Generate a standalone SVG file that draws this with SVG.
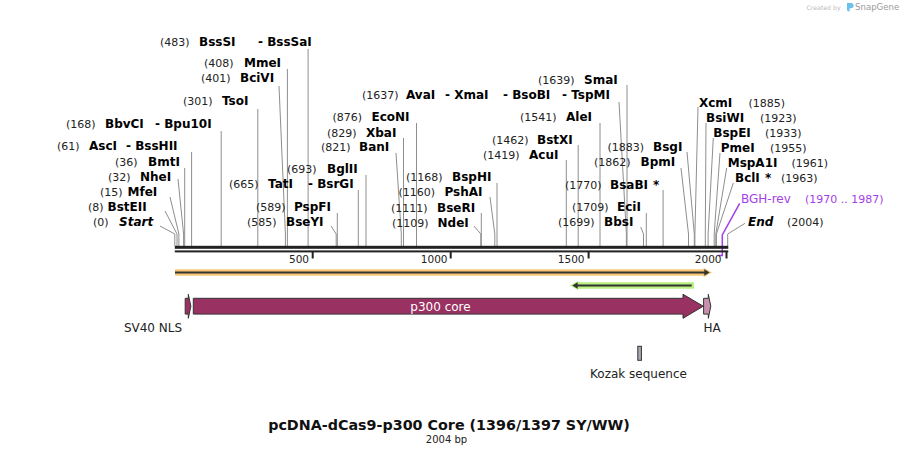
<svg xmlns="http://www.w3.org/2000/svg" width="904" height="456" viewBox="0 0 904 456">
<style>
text{font-family:"DejaVu Sans","Liberation Sans",sans-serif}
.n{font-size:11px;fill:#222}
.b{font-size:12px;font-weight:bold;fill:#000}
.bi{font-size:12px;font-weight:bold;font-style:italic;fill:#000}
.ld{stroke:#8e8e8e;stroke-width:1;fill:none}
.tk{font-size:10.5px;fill:#222;text-anchor:end}
.fl{font-size:12px;fill:#222}
.pu{fill:#a43ee8}
</style>
<rect width="904" height="456" fill="#fff"/>

<g id="watermark">
<text x="806.5" y="10" style="font-size:6.2px;fill:#bdbdbd">Created by</text>
<path d="M847,3 h4 a2.6,2.6 0 0 1 0,5.2 h-1.4 v3.6 l-2.6,-1.4 z" fill="#6cc0ee"/>
<text x="855" y="10" style="font-size:8.6px;fill:#9c9c9c">SnapGene</text>
</g>

<g id="connectors">
<path class="ld" d="M308.1,49V246"/>
<path class="ld" d="M287.4,69V246"/>
<path class="ld" d="M279,86L285.4,234V246"/>
<path class="ld" d="M257.8,109V246"/>
<path class="ld" d="M221.2,131V246"/>
<path class="ld" d="M191.6,152V246"/>
<path class="ld" d="M184.7,168V246"/>
<path class="ld" d="M178,179L183.6,234V246"/>
<path class="ld" d="M170,197L178.9,234V246"/>
<path class="ld" d="M165,211L177,234V246"/>
<path class="ld" d="M160,226L174.8,234V246"/>
<path class="ld" d="M366,175V246"/>
<path class="ld" d="M358.3,190V246"/>
<path class="ld" d="M337.3,213V246"/>
<path class="ld" d="M331,226L336.2,234V246"/>
<path class="ld" d="M416.5,123V246"/>
<path class="ld" d="M403.5,138V246"/>
<path class="ld" d="M396,153L401.3,234V246"/>
<path class="ld" d="M497,183V246"/>
<path class="ld" d="M490,197L494.8,234V246"/>
<path class="ld" d="M481.3,213V246"/>
<path class="ld" d="M474,226L480.8,234V246"/>
<path class="ld" d="M619,102L626.4,234V246"/>
<path class="ld" d="M627,85V246"/>
<path class="ld" d="M600,123V246"/>
<path class="ld" d="M578.2,145V246"/>
<path class="ld" d="M566.3,160V246"/>
<path class="ld" d="M687,152L694.3,234V246"/>
<path class="ld" d="M681,168L688.5,234V246"/>
<path class="ld" d="M663.1,190V246"/>
<path class="ld" d="M646.3,213V246"/>
<path class="ld" d="M640.7,227L643.5,234V246"/>
<path class="ld" d="M698,107L694.9,234V246"/>
<path class="ld" d="M706,123L705.3,234V246"/>
<path class="ld" d="M713.3,138L708.1,234V246"/>
<path class="ld" d="M720,153L714.2,234V246"/>
<path class="ld" d="M726.7,168L715.8,234V246"/>
<path class="ld" d="M733.3,183L716.4,234V246"/>
<path class="ld" d="M745,223.3L727.7,234V246"/>
<path d="M739.7,203.3L722.3,235V255.5H718.3" fill="none" stroke="#a43ee8" stroke-width="1.5"/>
</g>

<g id="axis">
<rect x="174.8" y="245.8" width="553.5" height="3" fill="#222"/>
<rect x="174.8" y="250.4" width="553.5" height="2" fill="#222"/>
<rect x="311.7" y="252" width="2" height="6.5" fill="#222"/>
<rect x="449.7" y="252" width="2" height="6.5" fill="#222"/>
<rect x="587.6" y="252" width="2" height="6.5" fill="#222"/>
<rect x="725.5" y="252" width="2" height="6.5" fill="#222"/>
<text class="tk" x="309" y="262.5">500</text>
<text class="tk" x="447.5" y="262.5">1000</text>
<text class="tk" x="584.5" y="262.5">1500</text>
<text class="tk" x="721.5" y="262.5">2000</text>
</g>

<g id="s483"><text x="160" y="46"><tspan class="n">(483)</tspan><tspan class="b" x="199">BssSI</tspan><tspan class="b" x="258">- BssSaI</tspan></text></g>
<g id="s408"><text x="204" y="67"><tspan class="n">(408)</tspan><tspan class="b" x="244">MmeI</tspan></text></g>
<g id="s401"><text x="201" y="82"><tspan class="n">(401)</tspan><tspan class="b" x="240">BciVI</tspan></text></g>
<g id="s301"><text x="183" y="105"><tspan class="n">(301)</tspan><tspan class="b" x="222">TsoI</tspan></text></g>
<g id="s168"><text x="66" y="128"><tspan class="n">(168)</tspan><tspan class="b" x="105">BbvCI</tspan><tspan class="b" x="155">- Bpu10I</tspan></text></g>
<g id="s61"><text x="57" y="150"><tspan class="n">(61)</tspan><tspan class="b" x="89">AscI</tspan><tspan class="b" x="126">- BssHII</tspan></text></g>
<g id="s36"><text x="115" y="165.5"><tspan class="n">(36)</tspan><tspan class="b" x="148">BmtI</tspan></text></g>
<g id="s32"><text x="108" y="180.5"><tspan class="n">(32)</tspan><tspan class="b" x="140">NheI</tspan></text></g>
<g id="s15"><text x="100" y="196"><tspan class="n">(15)</tspan><tspan class="b" x="127.5">MfeI</tspan></text></g>
<g id="s8"><text x="88" y="211"><tspan class="n">(8)</tspan><tspan class="b" x="107.5">BstEII</tspan></text></g>
<g id="s0"><text x="93" y="225.5"><tspan class="n">(0)</tspan><tspan class="bi" x="119">Start</tspan></text></g>

<g id="s693"><text x="287" y="173"><tspan class="n">(693)</tspan><tspan class="b" x="327">BglII</tspan></text></g>
<g id="s665"><text x="229" y="188"><tspan class="n">(665)</tspan><tspan class="b" x="268">TatI</tspan><tspan class="b" x="308">- BsrGI</tspan></text></g>
<g id="s589"><text x="256" y="211"><tspan class="n">(589)</tspan><tspan class="b" x="294">PspFI</tspan></text></g>
<g id="s585"><text x="247" y="226"><tspan class="n">(585)</tspan><tspan class="b" x="286">BseYI</tspan></text></g>
<g id="s876"><text x="332.5" y="121"><tspan class="n">(876)</tspan><tspan class="b" x="371.5">EcoNI</tspan></text></g>
<g id="s829"><text x="327" y="136.5"><tspan class="n">(829)</tspan><tspan class="b" x="366">XbaI</tspan></text></g>
<g id="s821"><text x="321" y="151"><tspan class="n">(821)</tspan><tspan class="b" x="359">BanI</tspan></text></g>
<g id="s1168"><text x="406" y="181"><tspan class="n">(1168)</tspan><tspan class="b" x="452">BspHI</tspan></text></g>
<g id="s1160"><text x="398.5" y="196"><tspan class="n">(1160)</tspan><tspan class="b" x="444.5">PshAI</tspan></text></g>
<g id="s1111"><text x="391" y="211.5"><tspan class="n">(1111)</tspan><tspan class="b" x="437">BseRI</tspan></text></g>
<g id="s1109"><text x="392" y="226.5"><tspan class="n">(1109)</tspan><tspan class="b" x="437.5">NdeI</tspan></text></g>

<g id="s1637"><text x="362" y="98.5"><tspan class="n">(1637)</tspan><tspan class="b" x="406">AvaI</tspan><tspan class="b" x="445">- XmaI</tspan><tspan class="b" x="503">- BsoBI</tspan><tspan class="b" x="562">- TspMI</tspan></text></g>
<g id="s1639"><text x="538" y="83.5"><tspan class="n">(1639)</tspan><tspan class="b" x="584">SmaI</tspan></text></g>
<g id="s1541"><text x="520" y="121"><tspan class="n">(1541)</tspan><tspan class="b" x="566">AleI</tspan></text></g>
<g id="s1462"><text x="492" y="143.5"><tspan class="n">(1462)</tspan><tspan class="b" x="537">BstXI</tspan></text></g>
<g id="s1419"><text x="483" y="158.5"><tspan class="n">(1419)</tspan><tspan class="b" x="529">AcuI</tspan></text></g>
<g id="s1883"><text x="607.5" y="151"><tspan class="n">(1883)</tspan><tspan class="b" x="653">BsgI</tspan></text></g>
<g id="s1862"><text x="594" y="166"><tspan class="n">(1862)</tspan><tspan class="b" x="640.5">BpmI</tspan></text></g>
<g id="s1770"><text x="565" y="188.5"><tspan class="n">(1770)</tspan><tspan class="b" x="610">BsaBI</tspan><tspan class="b" x="653">*</tspan></text></g>
<g id="s1709"><text x="572" y="211"><tspan class="n">(1709)</tspan><tspan class="b" x="617">EciI</tspan></text></g>
<g id="s1699"><text x="558" y="226"><tspan class="n">(1699)</tspan><tspan class="b" x="604">BbsI</tspan></text></g>

<g id="s1885"><text x="699" y="106.5"><tspan class="b">XcmI</tspan><tspan class="n" x="748.5">(1885)</tspan></text></g>
<g id="s1923"><text x="706" y="121.5"><tspan class="b">BsiWI</tspan><tspan class="n" x="760">(1923)</tspan></text></g>
<g id="s1933"><text x="713.3" y="136.5"><tspan class="b">BspEI</tspan><tspan class="n" x="765">(1933)</tspan></text></g>
<g id="s1955"><text x="720.7" y="151.5"><tspan class="b">PmeI</tspan><tspan class="n" x="770">(1955)</tspan></text></g>
<g id="s1961"><text x="727.7" y="166.5"><tspan class="b">MspA1I</tspan><tspan class="n" x="791.5">(1961)</tspan></text></g>
<g id="s1963"><text x="735" y="181.5"><tspan class="b">BclI</tspan><tspan class="b" x="765">*</tspan><tspan class="n" x="781">(1963)</tspan></text></g>
<g id="bgh-rev"><text x="741" y="203.3" class="pu"><tspan style="font-size:12px">BGH-rev</tspan><tspan style="font-size:11px" x="805">(1970 .. 1987)</tspan></text></g>
<g id="s2004"><text x="748" y="226"><tspan class="bi">End</tspan><tspan class="n" x="787">(2004)</tspan></text></g>

<g id="orange-feature">
<path d="M175,272.5H706" stroke="#f9c774" stroke-width="6.5" fill="none"/>
<polygon points="703.5,267.8 712,272.5 703.5,277.2" fill="#f9c774"/>
<path d="M175,272.5H706" stroke="#333" stroke-width="1.8" fill="none"/>
<polygon points="704.3,269.2 709.6,272.5 704.3,275.8" fill="#333"/>
</g>

<g id="green-feature">
<path d="M576,285.5H694" stroke="#b7f07e" stroke-width="6.5" fill="none"/>
<polygon points="578.5,280.8 570,285.5 578.5,290.2" fill="#b7f07e"/>
<path d="M575,285.5H691.7" stroke="#333" stroke-width="1.8" fill="none"/>
<polygon points="577.6,282.2 572.3,285.5 577.6,288.8" fill="#333"/>
</g>

<g id="p300-core">
<polygon points="193.3,298.3 683,298.3 683,294.3 703.3,306.2 683,318.3 683,314.1 193.3,314.1" fill="#993162" stroke="#333" stroke-width="1"/>
<text x="440.5" y="310.5" text-anchor="middle" style="font-size:12px;fill:#fff">p300 core</text>
</g>

<g id="sv40-nls">
<polygon points="185.2,298.3 188.3,298.3 188.3,294.3 190.9,306.2 188.3,318.3 188.3,314.1 185.2,314.1" fill="#993162" stroke="#333" stroke-width="1"/>
<text x="153" y="331.5" text-anchor="middle" class="fl">SV40 NLS</text>
</g>

<g id="ha">
<polygon points="703.6,298.3 708.3,298.3 708.3,294.3 710.8,306.2 708.3,318.3 708.3,314.1 703.6,314.1" fill="#c98fae" stroke="#333" stroke-width="1"/>
<text x="712" y="331.5" text-anchor="middle" class="fl">HA</text>
</g>

<g id="kozak">
<rect x="637.8" y="346.3" width="3.6" height="14" fill="#a9a9b4" stroke="#333" stroke-width="1"/>
<text x="638.5" y="378" text-anchor="middle" class="fl">Kozak sequence</text>
</g>

<g id="title">
<text x="449" y="430" text-anchor="middle" style="font-size:14.3px;font-weight:bold;fill:#111">pcDNA-dCas9-p300 Core (1396/1397 SY/WW)</text>
<text x="446.5" y="443" text-anchor="middle" style="font-size:10px;fill:#222">2004 bp</text>
</g>
</svg>
